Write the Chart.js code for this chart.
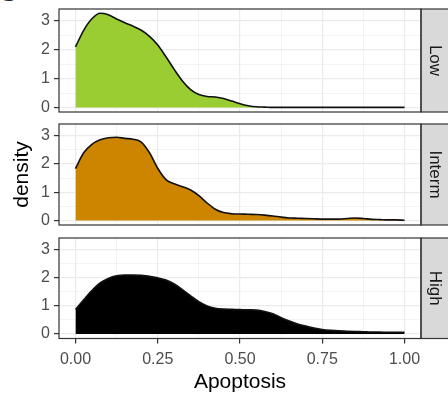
<!DOCTYPE html>
<html><head><meta charset="utf-8">
<script src="https://cdn.jsdelivr.net/npm/chart.js@4.4.1/dist/chart.umd.min.js"></script>
<style>
html,body{margin:0;padding:0;background:#fff;width:448px;height:399px;overflow:hidden;position:relative;}
canvas{position:absolute;left:0;}
#tag{position:absolute;left:-2px;top:-23px;font:bold 28px 'Liberation Sans',Arial,sans-serif;color:#222;line-height:30px;}
</style></head><body>
<div id="tag">C</div>
<canvas id="c1" width="448" height="120" style="top:0px"></canvas>
<canvas id="c2" width="448" height="112" style="top:118px"></canvas>
<canvas id="c3" width="448" height="169" style="top:230px"></canvas>
<script>
// ---- data ----
const apoptosis = [0,0.025,0.05,0.075,0.1,0.125,0.15,0.175,0.2,0.225,0.25,0.275,0.3,0.325,0.35,0.375,0.4,0.425,0.45,0.475,0.5,0.525,0.55,0.575,0.6,0.625,0.65,0.675,0.7,0.725,0.75,0.775,0.8,0.825,0.85,0.875,0.9,0.925,0.95,0.975,1];
const lowDensity = [2.10,2.68,3.08,3.27,3.22,3.07,2.94,2.82,2.68,2.47,2.17,1.76,1.32,0.92,0.62,0.45,0.38,0.36,0.31,0.22,0.13,0.06,0.02,0.01,0,0,0,0,0,0,0,0,0,0,0,0,0,0,0,0,0];
const intermDensity = [1.84,2.40,2.70,2.86,2.93,2.95,2.91,2.88,2.78,2.40,1.85,1.45,1.30,1.20,1.08,0.88,0.62,0.40,0.28,0.24,0.23,0.22,0.21,0.19,0.16,0.12,0.09,0.08,0.07,0.06,0.05,0.05,0.05,0.07,0.09,0.07,0.04,0.03,0.02,0.02,0.01];
const highDensity = [0.87,1.22,1.55,1.82,1.98,2.07,2.10,2.10,2.09,2.06,2.00,1.92,1.78,1.58,1.36,1.15,1.00,0.92,0.89,0.88,0.87,0.86,0.85,0.80,0.72,0.58,0.46,0.36,0.28,0.21,0.16,0.13,0.11,0.10,0.09,0.08,0.07,0.07,0.06,0.06,0.06];
const panelNames = ['Low','Interm','High'];
const panelColors = ['#9ACD32','#CD8500','#000000'];
const xTickValues = [0,0.25,0.5,0.75,1];
const xTickLabels = ['0.00','0.25','0.50','0.75','1.00'];
const xMinorValues = [0.125,0.375,0.625,0.875];
const yTickValues = [0,1,2,3];
const yTickLabels = ['0','1','2','3'];
const yMinorValues = [0.5,1.5,2.5];
const xAxisTitle = 'Apoptosis';
const yAxisTitle = 'density';

// ---- drawing ----
const FONT = "'Liberation Sans', Arial, sans-serif";
Chart.defaults.font.family = FONT;

const frame = {
  id: 'frame',
  afterDraw(chart) {
    const {ctx, chartArea: a} = chart;
    const s = chart.scales.strip;
    ctx.save();
    ctx.strokeStyle = '#333333';
    ctx.lineWidth = 1.2;
    ctx.strokeRect(a.left, a.top, a.right - a.left, a.bottom - a.top);
    ctx.strokeRect(s.left, s.top, s.right - s.left + 4, s.bottom - s.top);
    ctx.restore();
  }
};

function isMajor(v, list) { return list.some(t => Math.abs(t - v) < 1e-6); }
function noPad(s) { s.paddingTop = 0; s.paddingBottom = 0; s.paddingLeft = 0; s.paddingRight = 0; }

function makeChart(id, idx, padTop, padBottom, bottomAxis) {
  const values = [lowDensity, intermDensity, highDensity][idx];
  const data = apoptosis.map((x, i) => ({x: x, y: values[i]}));
  const gridLW = (list) => (c) => (c.tick && isMajor(c.tick.value, list)) ? 1.2 : 0.6;
  return new Chart(document.getElementById(id), {
    type: 'line',
    data: {
      datasets: [{
        data: data,
        borderColor: '#111111',
        borderWidth: 1.6,
        backgroundColor: panelColors[idx],
        fill: 'origin',
        pointRadius: 0,
        cubicInterpolationMode: 'monotone'
      }]
    },
    options: {
      responsive: false,
      animation: false,
      devicePixelRatio: 1,
      layout: {padding: {left: 0, right: 0, top: padTop, bottom: padBottom}},
      plugins: {legend: {display: false}, tooltip: {enabled: false}},
      scales: {
        x: {
          type: 'linear', min: -0.05, max: 1.05,
          afterBuildTicks: (s) => { s.ticks = xTickValues.concat(xMinorValues).sort((a,b)=>a-b).map(v => ({value: v})); },
          afterFit: (s) => { s.height = bottomAxis ? 60.5 : 0; noPad(s); },
          border: {display: false},
          grid: {
            color: '#EBEBEB', lineWidth: gridLW(xTickValues),
            drawTicks: bottomAxis, tickLength: 5, tickWidth: 1.2,
            tickColor: (c) => (c.tick && isMajor(c.tick.value, xTickValues)) ? '#333333' : 'rgba(0,0,0,0)'
          },
          ticks: {
            display: bottomAxis, padding: 6, color: '#4D4D4D', font: {size: 16},
            maxRotation: 0, autoSkip: false,
            callback: (v) => { const k = xTickValues.findIndex(t => Math.abs(t - v) < 1e-6); return k >= 0 ? xTickLabels[k] : ''; }
          },
          title: {display: bottomAxis, text: xAxisTitle, color: '#000000', font: {size: 21}, padding: {top: 0, bottom: 4}}
        },
        y: {
          type: 'linear', position: 'left', min: -0.16, max: 3.42,
          afterBuildTicks: (s) => { s.ticks = yTickValues.concat(yMinorValues).sort((a,b)=>a-b).map(v => ({value: v})); },
          afterFit: (s) => { s.width = 59; noPad(s); },
          border: {display: false},
          grid: {
            color: '#EBEBEB', lineWidth: gridLW(yTickValues),
            drawTicks: true, tickLength: 5, tickWidth: 1.2,
            tickColor: (c) => (c.tick && isMajor(c.tick.value, yTickValues)) ? '#333333' : 'rgba(0,0,0,0)'
          },
          ticks: {
            padding: 4, color: '#4D4D4D', font: {size: 16}, autoSkip: false,
            callback: (v) => { const k = yTickValues.findIndex(t => Math.abs(t - v) < 1e-6); return k >= 0 ? yTickLabels[k] : ''; }
          },
          title: {display: idx === 1, text: yAxisTitle, color: '#000000', font: {size: 21}, padding: {top: 10, bottom: 0}}
        },
        strip: {
          type: 'linear', position: 'right', min: 0, max: 1,
          afterFit: (s) => { s.width = 27; noPad(s); },
          backgroundColor: '#D9D9D9',
          border: {display: false},
          grid: {display: false, drawOnChartArea: false},
          ticks: {display: false},
          title: {display: true, text: panelNames[idx], color: '#1A1A1A', font: {size: 17}, padding: {top: 3, bottom: 0}}
        }
      }
    },
    plugins: [frame]
  });
}

makeChart('c1', 0, 9, 8, false);
makeChart('c2', 1, 6, 5, false);
makeChart('c3', 2, 8, 0, true);
</script>
</body></html>
